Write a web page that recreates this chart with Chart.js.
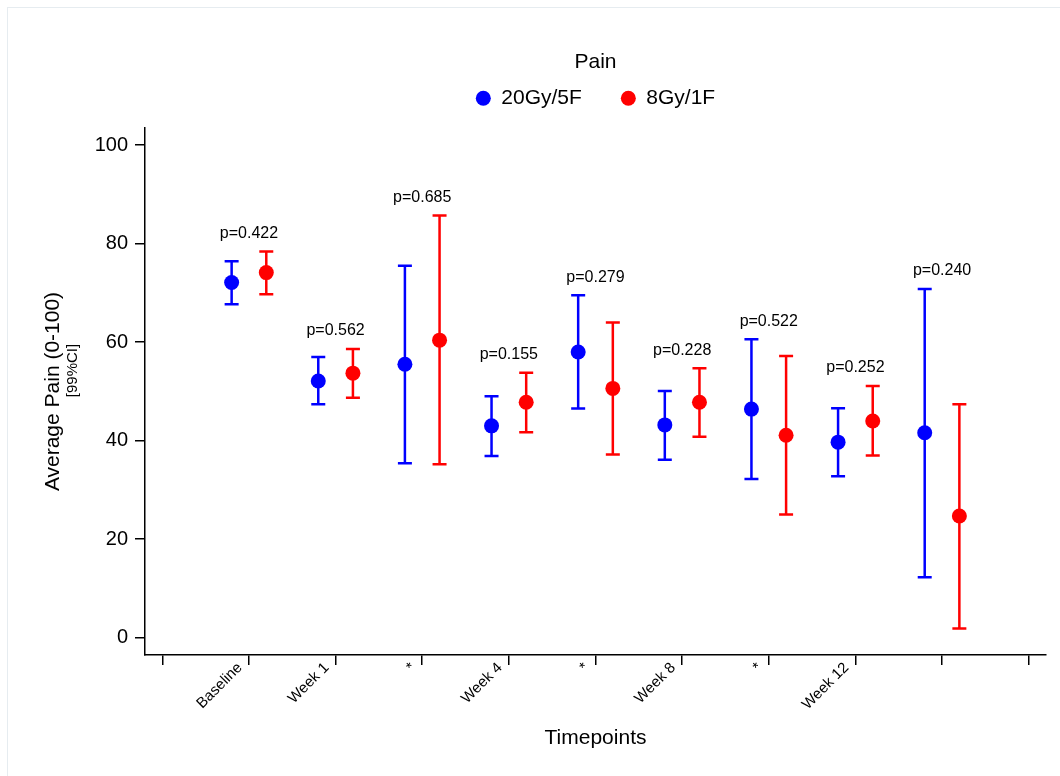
<!DOCTYPE html>
<html lang="en">
<head>
<meta charset="UTF-8" />
<title>Average Pain by Timepoint</title>
<script src="https://cdn.jsdelivr.net/npm/chart.js"></script>
<style>
  body {
    margin: 0;
    background: #fff;
  }
  .frame {
    position: absolute;
    left: 7px;
    top: 7px;
    right: 0;
    bottom: 0;
    border-top: 1px solid #e6ecf0;
    border-left: 1px solid #e6ecf0;
  }
  canvas {
    position: absolute;
    left: 0;
    top: 0;
  }
</style>
</head>
<body>
<div class="frame"></div>
<canvas id="chart" width="1060" height="776"></canvas>

<script>
  // tick labels along x (positions 0..10, groups sit on 1..9)
  const timepoints = ['', 'Baseline', 'Week 1', '*', 'Week 4', '*', 'Week 8', '*', 'Week 12', '', ''];
  const groups = [1, 2, 3, 4, 5, 6, 7, 8, 9];
  const yTicks = [0, 20, 40, 60, 80, 100];

  // 20Gy/5F: mean and 99% CI
  const blueMean = [72.1, 52.1, 55.5, 43.0, 58.0, 43.2, 46.4, 39.7, 41.6];
  const blueLow  = [67.7, 47.4, 35.4, 36.9, 46.5, 36.1, 32.2, 32.8, 12.3];
  const blueHigh = [76.4, 57.0, 75.5, 49.0, 69.5, 50.1, 60.6, 46.6, 70.8];

  // 8Gy/1F: mean and 99% CI
  const redMean = [74.1, 53.7, 60.4, 47.8, 50.6, 47.8, 41.1, 44.0, 24.7];
  const redLow  = [69.7, 48.7, 35.2, 41.7, 37.2, 40.8, 25.0, 37.0, 1.9];
  const redHigh = [78.4, 58.6, 85.7, 53.8, 64.0, 54.7, 57.2, 51.1, 47.4];

  const pValues = ['p=0.422', 'p=0.562', 'p=0.685', 'p=0.155', 'p=0.279', 'p=0.228', 'p=0.522', 'p=0.252', 'p=0.240'];

  const FONT = "'Liberation Sans', Arial, sans-serif";
  Chart.defaults.font.family = FONT;
  Chart.defaults.color = '#000';

  function points(mean, low, high, shift) {
    return groups.map((g, i) => ({ x: g + shift, y: mean[i], low: low[i], high: high[i] }));
  }

  // vertical CI lines with caps, drawn under the markers
  const errorBars = {
    id: 'errorBars',
    beforeDatasetsDraw(chart) {
      const { ctx, scales: { x, y } } = chart;
      chart.data.datasets.forEach(ds => {
        ctx.save();
        ctx.strokeStyle = ds.borderColor;
        ctx.lineWidth = 2.5;
        ds.data.forEach(p => {
          const px = x.getPixelForValue(p.x);
          const lo = y.getPixelForValue(p.low);
          const hi = y.getPixelForValue(p.high);
          ctx.beginPath();
          ctx.moveTo(px, lo);
          ctx.lineTo(px, hi);
          ctx.moveTo(px - 7, lo);
          ctx.lineTo(px + 7, lo);
          ctx.moveTo(px - 7, hi);
          ctx.lineTo(px + 7, hi);
          ctx.stroke();
        });
        ctx.restore();
      });
    }
  };

  // p-value above each pair
  const pLabels = {
    id: 'pLabels',
    afterDatasetsDraw(chart) {
      const { ctx, scales: { x, y } } = chart;
      ctx.save();
      ctx.font = '16px ' + FONT;
      ctx.fillStyle = '#000';
      ctx.textAlign = 'center';
      ctx.textBaseline = 'middle';
      groups.forEach((g, i) => {
        const top = y.getPixelForValue(Math.max(blueHigh[i], redHigh[i]));
        ctx.fillText(pValues[i], x.getPixelForValue(g), top - 18);
      });
      ctx.restore();
    }
  };

  // two-line y title, second line smaller
  const yTitle = {
    id: 'yTitle',
    afterDraw(chart) {
      const { ctx, chartArea } = chart;
      const cy = (chartArea.top + chartArea.bottom) / 2;
      ctx.save();
      ctx.fillStyle = '#000';
      ctx.textAlign = 'center';
      ctx.textBaseline = 'middle';
      ctx.translate(53, cy);
      ctx.rotate(-Math.PI / 2);
      ctx.font = '21px ' + FONT;
      ctx.fillText('Average Pain (0-100)', 0, 0);
      ctx.font = '15px ' + FONT;
      ctx.fillText('[99%CI]', 21, 20);
      ctx.restore();
    }
  };

  // keep the legend block a fixed height so the plot starts at the same place
  const legendHeight = {
    id: 'legendHeight',
    beforeInit(chart) {
      const fit = chart.legend.fit;
      chart.legend.fit = function () {
        fit.bind(chart.legend)();
        this.height = 128;
      };
    }
  };

  const axisGrid = { drawOnChartArea: false, drawTicks: true, tickLength: 10, color: '#000', lineWidth: 1.5 };
  const axisBorder = { color: '#000', width: 1.5 };

  new Chart(document.getElementById('chart'), {
    type: 'scatter',
    data: {
      datasets: [
        {
          label: '20Gy/5F',
          data: points(blueMean, blueLow, blueHigh, -0.2),
          backgroundColor: '#0000ff',
          borderColor: '#0000ff',
          borderWidth: 0,
          pointRadius: 7.5,
          pointHoverRadius: 7.5,
          pointStyle: 'circle'
        },
        {
          label: '8Gy/1F',
          data: points(redMean, redLow, redHigh, 0.2),
          backgroundColor: '#ff0000',
          borderColor: '#ff0000',
          borderWidth: 0,
          pointRadius: 7.5,
          pointHoverRadius: 7.5,
          pointStyle: 'circle'
        }
      ]
    },
    options: {
      responsive: false,
      animation: false,
      layout: { padding: { left: 0, top: 0, right: 14, bottom: 0 } },
      plugins: {
        tooltip: { enabled: false },
        legend: {
          position: 'top',
          fullSize: false,
          title: {
            display: true,
            text: 'Pain',
            color: '#000',
            font: { size: 21 },
            padding: { top: 51.5, bottom: -28 }
          },
          labels: {
            usePointStyle: true,
            pointStyleWidth: 15,
            boxHeight: 10.6,
            padding: 39,
            color: '#000',
            font: { size: 21 }
          }
        }
      },
      scales: {
        x: {
          type: 'linear',
          min: -0.2,
          max: 10.2,
          afterBuildTicks: s => { s.ticks = timepoints.map((_, i) => ({ value: i })); },
          afterFit: s => { s.height = 121; },
          grid: axisGrid,
          border: axisBorder,
          ticks: {
            autoSkip: false,
            minRotation: 45,
            maxRotation: 45,
            padding: -6,
            labelOffset: -9,
            color: '#000',
            font: { size: 15 },
            callback: v => timepoints[v]
          },
          title: {
            display: true,
            text: 'Timepoints',
            color: '#000',
            font: { size: 21 },
            padding: { top: 0, bottom: 25 }
          }
        },
        y: {
          min: -3.5,
          max: 103.45,
          afterBuildTicks: s => { s.ticks = yTicks.map(v => ({ value: v })); },
          afterFit: s => { s.width = 145; },
          grid: axisGrid,
          border: axisBorder,
          ticks: {
            padding: 7,
            color: '#000',
            font: { size: 20 }
          }
        }
      }
    },
    plugins: [errorBars, pLabels, yTitle, legendHeight]
  });
</script>
</body>
</html>
